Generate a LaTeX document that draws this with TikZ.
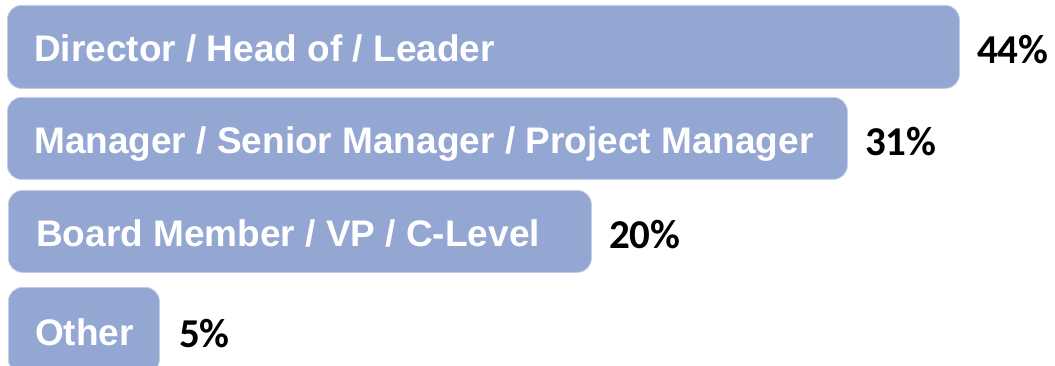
\documentclass[tikz,border=0pt]{standalone}
\usepackage{fontspec}
\setmainfont{Liberation Sans}
\newfontfamily\pctfont{Carlito}
\usetikzlibrary{positioning}

\definecolor{barblue}{RGB}{148,167,211}

\tikzset{
  bar/.style={fill=barblue, draw=barblue!55!white, line width=0.8pt,
    rounded corners=14pt, anchor=north west, minimum height=83pt, inner sep=0pt},
  bartext/.style={text=white, font=\fontsize{37}{41}\selectfont\bfseries,
    inner sep=0pt, text height=26.5pt, text depth=0pt, yshift=-1.5pt},
  pct/.style={font=\pctfont\fontsize{41}{45}\selectfont\bfseries,
    inner sep=0pt, text height=26pt, text depth=0pt, yshift=-4pt}
}

\begin{document}
\begin{tikzpicture}[x=1pt, y=-1pt]
\useasboundingbox (0,0) rectangle (1055,366);

% bars
\node[bar, minimum width=952pt] (dir) at (7,5) {};
\node[bar, minimum width=840pt, minimum height=82pt] (mgr) at (7,97) {};
\node[bar, minimum width=583pt, minimum height=82pt] (brd) at (8,190) {};
\node[bar, minimum width=151pt, minimum height=86pt] (oth) at (8,287) {};

% labels
\node[bartext, right=27pt of dir.west] (dirtext) {Director / Head of / Leader};
\node[bartext, right=27pt of mgr.west] (mgrtext) {Manager / Senior Manager / Project Manager};
\node[bartext, right=28pt of brd.west] (brdtext) {Board Member / VP / C-Level};
\node[bartext, right=27pt of oth.west] (othtext) {Other};

% shares
\node[pct, right=17pt of dir] (dirpct) {44\%};
\node[pct, right=17pt of mgr] (mgrpct) {31\%};
\node[pct, right=17pt of brd] (brdpct) {20\%};
\node[pct, right=19pt of oth] (othpct) {5\%};

\end{tikzpicture}
\end{document}
